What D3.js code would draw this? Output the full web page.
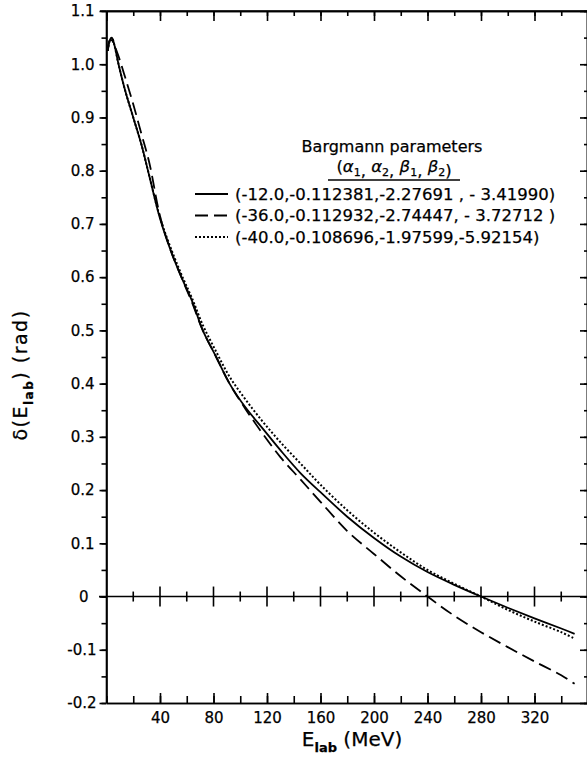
<!DOCTYPE html>
<html>
<head>
<meta charset="utf-8">
<script src="https://cdn.jsdelivr.net/npm/d3@7"></script>
<style>
	body { margin: 0; background: #fff; }
	text { font-family: "DejaVu Sans", sans-serif; fill: #000; stroke: #000; stroke-width: 0.25px; }
	.axis path, .axis line { stroke: #000; stroke-width: 1.6; }
	.axis text { font-size: 15px; }
</style>
</head>
<body>
<div id="chart"></div>
<script>

// lab energy grid (MeV) and phase shifts (rad)
var energies = [1, 2.5, 4, 6, 9, 14, 20, 26, 32, 40, 48, 56, 64, 72, 82, 92, 104, 117, 130, 145, 160, 180, 200, 220, 240, 260, 280, 300, 320, 340, 350];

var deltaSolid = [1.025, 1.045, 1.05, 1.035, 1.0, 0.95, 0.9, 0.85, 0.79, 0.71, 0.65, 0.6, 0.555, 0.5, 0.45, 0.4, 0.355, 0.315, 0.275, 0.232, 0.196, 0.15, 0.11, 0.075, 0.046, 0.022, 0, -0.021, -0.041, -0.06, -0.07];
var deltaDashed = [1.03, 1.045, 1.045, 1.035, 1.015, 0.975, 0.925, 0.87, 0.815, 0.715, 0.65, 0.6, 0.552, 0.5, 0.45, 0.4, 0.352, 0.305, 0.262, 0.22, 0.178, 0.123, 0.08, 0.038, 0, -0.036, -0.067, -0.095, -0.122, -0.148, -0.164];
var deltaDotted = [1.025, 1.045, 1.05, 1.035, 1.0, 0.95, 0.9, 0.85, 0.79, 0.712, 0.655, 0.605, 0.56, 0.51, 0.46, 0.413, 0.37, 0.328, 0.29, 0.25, 0.21, 0.162, 0.12, 0.083, 0.05, 0.024, 0, -0.025, -0.047, -0.067, -0.079];

var legendLabels = [
	'(-12.0,-0.112381,-2.27691 , - 3.41990)',
	'(-36.0,-0.112932,-2.74447, - 3.72712 )',
	'(-40.0,-0.108696,-1.97599,-5.92154)'
];
var legendDash = ['none', '13,6', '2,2'];

var xTickLabels = [40, 80, 120, 160, 200, 240, 280, 320];
var yTickLabels = [-0.2, -0.1, 0, 0.1, 0.2, 0.3, 0.4, 0.5, 0.6, 0.7, 0.8, 0.9, 1.0, 1.1];

window.onload = function(){

	var svg = d3.select('#chart').append('svg').attr('width', 587).attr('height', 757);

	var x = d3.scaleLinear().domain([0, 360]).range([106.5, 588]);
	var y = d3.scaleLinear().domain([-0.2, 1.1]).range([703, 11]);

	var xMinor = d3.range(0, 361, 20);
	var xMajor = d3.range(0, 361, 40);
	var yMinor = d3.range(-0.2, 1.1001, 0.05);

	// left axis, ticks outward
	svg.append('g').attr('class', 'axis').attr('transform', 'translate(106.5,0)')
		.call(d3.axisLeft(y).tickValues(yMinor).tickSize(5).tickSizeOuter(0).tickFormat(''));
	var left = svg.append('g').attr('class', 'axis').attr('transform', 'translate(106.5,0)')
		.call(d3.axisLeft(y).tickValues(yTickLabels).tickSize(7).tickSizeOuter(0)
			.tickFormat(function(d){ return d == 0 ? '0' : d.toFixed(1); }));
	left.selectAll('.tick text').attr('dx', function(d){ return d < 0 ? 0 : (d == 0 ? -8 : -2); });
	left.select('.domain').remove();
	svg.append('line').attr('x1', 106.5).attr('x2', 106.5).attr('y1', y(1.1)).attr('y2', y(-0.2))
		.attr('stroke', '#000').attr('stroke-width', 1.6);

	// right axis, ticks inward
	svg.append('g').attr('class', 'axis').attr('transform', 'translate(587,0)')
		.call(d3.axisRight(y).tickValues(yMinor).tickSize(-3).tickSizeOuter(0).tickFormat(''));
	svg.append('g').attr('class', 'axis').attr('transform', 'translate(587,0)')
		.call(d3.axisRight(y).tickValues(yTickLabels).tickSize(-7).tickSizeOuter(0).tickFormat(''));

	// top axis, ticks inward
	svg.append('g').attr('class', 'axis').attr('transform', 'translate(0,' + y(1.1) + ')')
		.call(d3.axisTop(x).tickValues(xMinor).tickSize(-5).tickSizeOuter(0).tickFormat(''));
	svg.append('g').attr('class', 'axis').attr('transform', 'translate(0,' + y(1.1) + ')')
		.call(d3.axisTop(x).tickValues(xMajor).tickSize(-10).tickSizeOuter(0).tickFormat(''));
	svg.append('line').attr('x1', 100).attr('x2', 587).attr('y1', y(1.1)).attr('y2', y(1.1))
		.attr('stroke', '#000').attr('stroke-width', 1.6);

	// bottom axis, ticks inward
	svg.append('g').attr('class', 'axis').attr('transform', 'translate(0,' + y(-0.2) + ')')
		.call(d3.axisBottom(x).tickValues(xMinor).tickSize(-7).tickSizeOuter(0).tickFormat(''));
	svg.append('g').attr('class', 'axis').attr('transform', 'translate(0,' + y(-0.2) + ')')
		.call(d3.axisBottom(x).tickValues(xTickLabels).tickSize(-10).tickPadding(9).tickSizeOuter(0));

	// zero line with crossing ticks
	var zero = svg.append('g');
	zero.append('line').attr('x1', 99).attr('x2', 587).attr('y1', y(0)).attr('y2', y(0))
		.attr('stroke', '#000').attr('stroke-width', 1.6);
	zero.selectAll('.zt').data(xMinor.filter(function(d){ return d > 0; })).enter().append('line')
		.attr('x1', function(d){ return x(d); }).attr('x2', function(d){ return x(d); })
		.attr('y1', function(d){ return y(0) - (d % 40 == 0 ? 10 : 5); })
		.attr('y2', function(d){ return y(0) + (d % 40 == 0 ? 10 : 5); })
		.attr('stroke', '#000').attr('stroke-width', 1.6);

	// curves
	var series = [deltaSolid, deltaDashed, deltaDotted];
	var line = d3.line()
		.x(function(d){ return x(d[0]); })
		.y(function(d){ return y(d[1]); })
		.curve(d3.curveCatmullRom.alpha(0.5));

	svg.selectAll('.curve').data(series).enter().append('path')
		.attr('class', 'curve')
		.attr('d', function(s){ return line(energies.map(function(e, i){ return [e, s[i]]; })); })
		.attr('fill', 'none')
		.attr('stroke', '#000')
		.attr('stroke-width', function(s, i){ return i == 2 ? 2 : 1.8; })
		.attr('stroke-dasharray', function(s, i){ return legendDash[i]; });

	// legend
	var lg = svg.append('g');
	lg.append('text').attr('x', 392).attr('y', 152).attr('text-anchor', 'middle')
		.style('font-size', '16px').text('Bargmann parameters');

	var head = lg.append('text').attr('x', 394).attr('y', 172).attr('text-anchor', 'middle')
		.style('font-size', '16.5px');
	var symbols = [['α', '1'], ['α', '2'], ['β', '1'], ['β', '2']];
	head.append('tspan').text('(');
	symbols.forEach(function(s, i){
		head.append('tspan').style('font-style', 'italic').attr('dy', i == 0 ? 0 : -4).text(s[0]);
		head.append('tspan').style('font-size', '11px').attr('dy', 4).text(s[1]);
		head.append('tspan').text(i < 3 ? ', ' : ')');
	});
	lg.append('line').attr('x1', 328).attr('x2', 460).attr('y1', 180).attr('y2', 180)
		.attr('stroke', '#000').attr('stroke-width', 1.4);

	var rows = lg.selectAll('.row').data(legendLabels).enter().append('g')
		.attr('transform', function(d, i){ return 'translate(0,' + (194 + i * 21.5) + ')'; });
	rows.append('line').attr('x1', 195).attr('x2', 228)
		.attr('stroke', '#000').attr('stroke-width', 1.8)
		.attr('stroke-dasharray', function(d, i){ return legendDash[i]; });
	rows.append('text').attr('x', 235).attr('y', 5.5)
		.style('font-size', '16.5px').text(function(d){ return d; });

	// axis titles
	var xt = svg.append('text').attr('x', 352).attr('y', 746).attr('text-anchor', 'middle')
		.style('font-size', '20px');
	xt.append('tspan').text('E');
	xt.append('tspan').style('font-size', '13px').style('font-weight', 'bold').attr('dy', 6).text('lab');
	xt.append('tspan').attr('dy', -6).text(' (MeV)');

	var yt = svg.append('text').attr('transform', 'translate(27,375) rotate(-90)')
		.attr('text-anchor', 'middle').style('font-size', '19px').style('letter-spacing', '1.5px');
	yt.append('tspan').text('δ(E');
	yt.append('tspan').style('font-size', '12px').style('font-weight', 'bold').attr('dy', 6).text('lab');
	yt.append('tspan').attr('dy', -6).text(') (rad)');
}

</script>
</body>
</html>
